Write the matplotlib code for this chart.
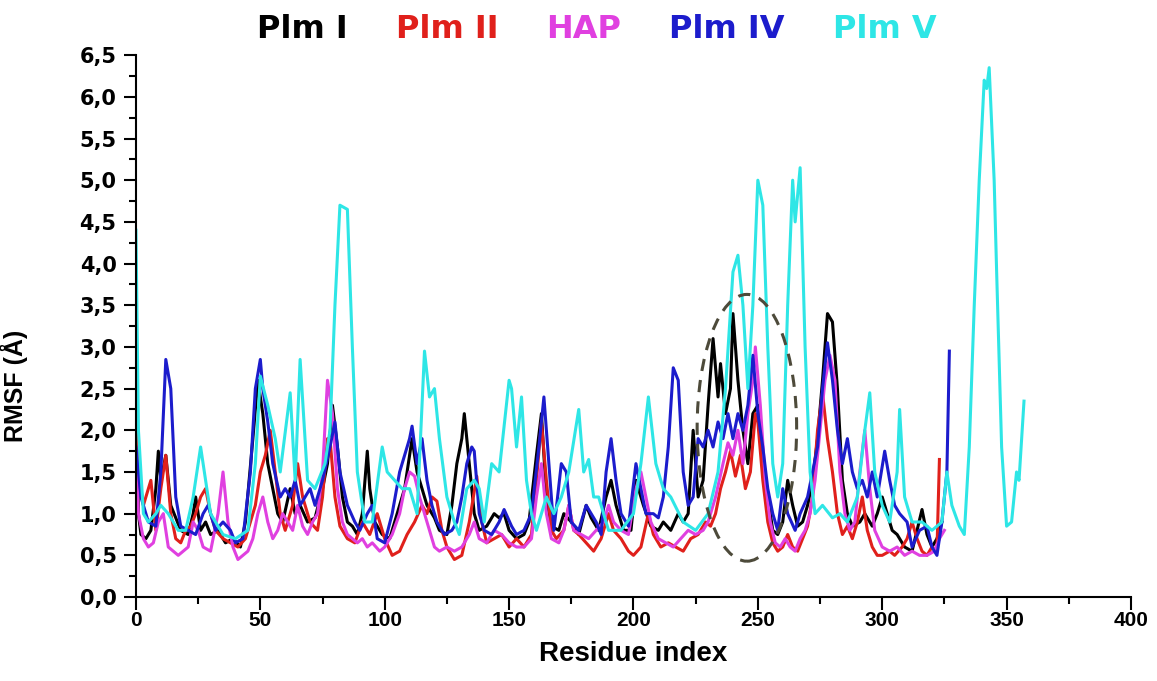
import matplotlib
matplotlib.use('Agg')
import matplotlib.pyplot as plt
from matplotlib.patches import Ellipse
from matplotlib.ticker import MultipleLocator, FuncFormatter

# (residue, RMSF) key points
plm1 = [(0, 2.65), (1, 1.0), (2, 0.75), (4, 0.7), (6, 0.8), (8, 1.3), (9, 1.75), (10, 1.4), (12, 1.7),
        (14, 1.1), (16, 0.95), (18, 0.8), (21, 0.75), (23, 1.0), (24, 1.2), (26, 0.8), (28, 0.9),
        (30, 0.75), (33, 0.8), (36, 0.65), (39, 0.7), (42, 0.6), (44, 0.9), (47, 1.9), (49, 2.6),
        (51, 2.2), (53, 1.6), (55, 1.3), (57, 1.0), (59, 0.9), (62, 1.3), (64, 1.0), (66, 1.1),
        (69, 0.9), (72, 0.95), (75, 1.3), (77, 1.6), (79, 2.3), (81, 1.8), (83, 1.2), (85, 0.9),
        (87, 0.85), (89, 0.75), (91, 1.0), (93, 1.75), (94, 1.3), (96, 0.9), (99, 0.75), (102, 0.7),
        (105, 1.0), (108, 1.3), (111, 1.9), (113, 1.5), (115, 1.3), (117, 1.1), (120, 0.95),
        (122, 0.8), (125, 0.75), (127, 1.1), (129, 1.6), (131, 1.9), (132, 2.2), (134, 1.6),
        (136, 1.0), (138, 0.8), (141, 0.85), (144, 1.0), (146, 0.95), (148, 1.0), (150, 0.8),
        (153, 0.7), (156, 0.75), (158, 0.9), (161, 1.7), (163, 2.2), (165, 1.2), (167, 0.85),
        (170, 0.8), (172, 1.0), (175, 0.9), (178, 0.75), (181, 1.1), (183, 0.95), (186, 0.8),
        (189, 1.2), (191, 1.4), (193, 1.1), (196, 0.8), (199, 0.8), (201, 1.4), (204, 1.1),
        (207, 0.85), (210, 0.8), (212, 0.9), (215, 0.8), (218, 1.0), (220, 0.9), (222, 1.0),
        (224, 2.0), (226, 1.2), (228, 1.4), (230, 2.3), (232, 3.1), (234, 2.4), (235, 2.8),
        (237, 2.2), (239, 2.5), (240, 3.4), (242, 2.6), (244, 2.0), (246, 1.6), (248, 2.2),
        (250, 2.3), (252, 1.7), (254, 1.2), (256, 0.8), (258, 0.75), (260, 0.9), (262, 1.4),
        (264, 1.1), (266, 0.85), (268, 0.9), (270, 1.1), (272, 1.4), (274, 1.9), (276, 2.6),
        (278, 3.4), (280, 3.3), (282, 2.5), (284, 1.4), (286, 1.0), (288, 0.85), (291, 0.9),
        (293, 1.0), (296, 0.85), (298, 1.0), (300, 1.2), (302, 1.0), (304, 0.8), (306, 0.75),
        (309, 0.6), (312, 0.55), (314, 0.8), (316, 1.05), (318, 0.75), (320, 0.6), (322, 0.7),
        (324, 0.9)]

plm2 = [(0, 2.8), (1, 1.5), (3, 1.1), (5, 1.3), (6, 1.4), (8, 0.8), (10, 1.3), (12, 1.7), (14, 1.0),
        (16, 0.7), (18, 0.65), (20, 0.8), (22, 0.85), (24, 1.0), (26, 1.2), (28, 1.3), (30, 1.0),
        (32, 0.8), (35, 0.7), (38, 0.65), (41, 0.6), (44, 0.7), (46, 0.9), (48, 1.1), (50, 1.5),
        (52, 1.7), (54, 2.0), (56, 1.5), (58, 1.0), (60, 0.8), (63, 1.1), (65, 1.6), (67, 1.2),
        (70, 0.9), (73, 0.8), (75, 1.2), (77, 1.9), (78, 1.9), (80, 1.2), (82, 0.85), (85, 0.7),
        (88, 0.65), (91, 0.9), (94, 0.75), (97, 1.0), (100, 0.7), (103, 0.5), (106, 0.55),
        (109, 0.75), (112, 0.9), (115, 1.1), (117, 1.0), (119, 1.2), (121, 1.15), (123, 0.8),
        (125, 0.6), (128, 0.45), (131, 0.5), (134, 0.9), (137, 1.45), (139, 0.9), (141, 0.65),
        (144, 0.7), (147, 0.75), (150, 0.6), (153, 0.7), (156, 0.6), (159, 0.75), (161, 1.4),
        (163, 2.1), (165, 1.4), (167, 0.8), (169, 0.7), (172, 0.8), (174, 1.1), (176, 0.8),
        (178, 0.75), (181, 0.65), (184, 0.55), (187, 0.7), (190, 1.0), (192, 0.8), (195, 0.7),
        (198, 0.55), (200, 0.5), (203, 0.6), (206, 1.0), (208, 0.75), (211, 0.6), (214, 0.65),
        (217, 0.6), (220, 0.55), (223, 0.7), (226, 0.75), (229, 0.9), (231, 0.85), (233, 1.0),
        (235, 1.3), (237, 1.5), (239, 1.75), (241, 1.45), (243, 1.7), (245, 1.3), (247, 1.5),
        (249, 2.2), (250, 2.1), (252, 1.4), (254, 0.9), (256, 0.65), (258, 0.55), (260, 0.6),
        (262, 0.75), (264, 0.6), (266, 0.55), (268, 0.7), (270, 0.85), (272, 1.2), (274, 2.0),
        (276, 2.45), (278, 1.9), (280, 1.5), (282, 1.0), (284, 0.75), (286, 0.85), (288, 0.7),
        (290, 0.9), (292, 1.2), (294, 0.8), (296, 0.6), (298, 0.5), (300, 0.5), (303, 0.55),
        (305, 0.5), (308, 0.6), (310, 0.7), (312, 0.9), (314, 0.7), (316, 0.55), (318, 0.5),
        (320, 0.6), (322, 0.55), (323, 1.65)]

hap = [(0, 1.7), (1, 1.0), (3, 0.7), (5, 0.6), (7, 0.65), (9, 0.9), (11, 1.0), (13, 0.6), (15, 0.55),
       (17, 0.5), (19, 0.55), (21, 0.6), (23, 0.9), (25, 0.8), (27, 0.6), (30, 0.55), (33, 1.0),
       (35, 1.5), (37, 0.9), (39, 0.6), (41, 0.45), (43, 0.5), (45, 0.55), (47, 0.7), (49, 1.0),
       (51, 1.2), (53, 0.9), (55, 0.7), (57, 0.8), (59, 1.0), (61, 0.9), (63, 0.8), (65, 1.1),
       (67, 0.85), (69, 0.75), (71, 0.9), (73, 1.0), (75, 1.5), (77, 2.6), (79, 2.2), (81, 1.3),
       (83, 0.9), (85, 0.75), (87, 0.7), (89, 0.65), (91, 0.7), (93, 0.6), (95, 0.65), (98, 0.55),
       (100, 0.6), (103, 0.75), (106, 1.0), (108, 1.3), (110, 1.5), (112, 1.45), (114, 1.2),
       (116, 1.0), (118, 0.8), (120, 0.6), (122, 0.55), (125, 0.6), (128, 0.55), (131, 0.6),
       (134, 0.75), (136, 0.9), (138, 0.7), (141, 0.65), (144, 0.8), (147, 0.75), (150, 0.65),
       (153, 0.6), (156, 0.6), (159, 0.7), (161, 1.2), (163, 1.6), (165, 1.0), (167, 0.7),
       (170, 0.65), (172, 0.8), (174, 1.1), (176, 0.8), (179, 0.75), (182, 0.7), (185, 0.8),
       (188, 0.9), (190, 1.1), (192, 0.9), (195, 0.8), (198, 0.75), (201, 1.3), (203, 1.5),
       (205, 1.2), (207, 0.9), (210, 0.7), (213, 0.65), (216, 0.6), (219, 0.7), (222, 0.8),
       (225, 0.75), (228, 0.8), (230, 0.9), (233, 1.2), (236, 1.6), (238, 1.85), (240, 1.7),
       (242, 2.0), (244, 1.6), (246, 2.2), (248, 2.6), (249, 3.0), (251, 2.3), (253, 1.4),
       (255, 0.9), (257, 0.65), (259, 0.6), (261, 0.7), (263, 0.6), (265, 0.55), (267, 0.7),
       (269, 0.8), (271, 1.0), (273, 1.4), (275, 2.0), (277, 2.6), (279, 2.9), (281, 2.6),
       (283, 1.5), (285, 1.0), (287, 0.8), (289, 0.9), (291, 1.5), (293, 2.0), (295, 1.3),
       (297, 0.8), (300, 0.6), (303, 0.55), (306, 0.6), (309, 0.5), (312, 0.55), (315, 0.5),
       (318, 0.5), (321, 0.55), (323, 0.7), (325, 0.8)]

plm4 = [(0, 1.8), (2, 1.2), (5, 0.9), (8, 0.85), (10, 1.5), (12, 2.85), (14, 2.5), (16, 1.2),
        (18, 0.85), (21, 0.8), (24, 0.75), (27, 1.0), (29, 1.1), (32, 0.8), (35, 0.9), (38, 0.8),
        (40, 0.65), (43, 0.7), (46, 1.5), (48, 2.5), (50, 2.85), (51, 2.5), (53, 2.1), (55, 1.6),
        (58, 1.2), (60, 1.3), (62, 1.2), (64, 1.4), (66, 1.1), (68, 1.2), (70, 1.3), (72, 1.1),
        (75, 1.4), (78, 1.8), (80, 2.1), (82, 1.5), (85, 1.1), (88, 0.9), (90, 0.8), (93, 1.0),
        (95, 1.1), (97, 0.7), (100, 0.65), (103, 1.0), (106, 1.5), (108, 1.7), (110, 1.9),
        (111, 2.05), (113, 1.6), (115, 1.9), (117, 1.4), (119, 1.1), (121, 0.9), (124, 0.75),
        (127, 0.8), (129, 0.9), (131, 1.2), (133, 1.6), (135, 1.8), (136, 1.75), (138, 1.0),
        (140, 0.8), (143, 0.75), (146, 0.9), (148, 1.05), (151, 0.85), (153, 0.75), (156, 0.8),
        (159, 1.0), (162, 1.8), (164, 2.4), (166, 1.6), (168, 0.8), (171, 1.6), (173, 1.5),
        (175, 0.9), (178, 0.8), (181, 1.1), (183, 1.0), (185, 0.9), (187, 0.75), (189, 1.5),
        (191, 1.9), (193, 1.4), (195, 1.0), (198, 0.85), (201, 1.6), (203, 1.3), (205, 1.0),
        (208, 1.0), (210, 0.95), (212, 1.2), (214, 1.8), (216, 2.75), (218, 2.6), (220, 1.5),
        (222, 1.1), (224, 1.2), (226, 1.9), (228, 1.8), (230, 2.0), (232, 1.8), (234, 2.1),
        (236, 1.9), (238, 2.2), (240, 1.9), (242, 2.2), (244, 2.0), (246, 2.3), (248, 2.9),
        (250, 2.2), (252, 1.8), (254, 1.3), (256, 1.0), (258, 0.8), (260, 1.3), (262, 1.0),
        (265, 0.8), (267, 1.0), (270, 1.2), (272, 1.5), (274, 1.8), (276, 2.5), (278, 3.05),
        (280, 2.6), (282, 2.0), (284, 1.6), (286, 1.9), (288, 1.5), (290, 1.3), (292, 1.4),
        (294, 1.2), (296, 1.5), (298, 1.2), (301, 1.75), (303, 1.4), (305, 1.1), (307, 1.0),
        (310, 0.9), (312, 0.6), (315, 0.8), (318, 0.85), (320, 0.6), (322, 0.5), (324, 0.9),
        (326, 1.5), (327, 2.95)]

plm5 = [(0, 4.4), (1, 2.0), (3, 1.0), (5, 0.9), (8, 1.0), (10, 1.1), (13, 1.0), (17, 0.8),
        (20, 0.8), (23, 1.2), (26, 1.8), (28, 1.4), (30, 1.0), (35, 0.75), (40, 0.7), (45, 0.8),
        (48, 1.6), (50, 2.65), (53, 2.3), (56, 1.9), (58, 1.5), (62, 2.45), (64, 1.4), (66, 2.85),
        (69, 1.4), (72, 1.3), (76, 1.6), (78, 2.0), (80, 3.5), (82, 4.7), (85, 4.65), (87, 3.0),
        (89, 1.5), (92, 0.9), (95, 0.9), (99, 1.8), (101, 1.5), (104, 1.4), (107, 1.3),
        (110, 1.3), (113, 1.0), (116, 2.95), (118, 2.4), (120, 2.5), (122, 1.9), (125, 1.2),
        (128, 0.9), (130, 0.75), (133, 1.3), (136, 1.4), (138, 1.3), (140, 0.9), (143, 1.6),
        (146, 1.5), (150, 2.6), (151, 2.5), (153, 1.8), (155, 2.4), (157, 1.4), (159, 1.0),
        (161, 0.8), (165, 1.2), (168, 1.0), (171, 1.2), (174, 1.5), (178, 2.25), (180, 1.5),
        (182, 1.65), (184, 1.2), (186, 1.2), (190, 0.8), (195, 0.8), (200, 1.0), (203, 1.6),
        (206, 2.4), (209, 1.6), (212, 1.3), (215, 1.2), (220, 0.9), (225, 0.8), (230, 1.0),
        (234, 1.5), (237, 2.5), (240, 3.9), (242, 4.1), (244, 3.5), (246, 2.5), (248, 3.5),
        (250, 5.0), (252, 4.7), (254, 3.0), (256, 1.6), (258, 1.2), (260, 1.6), (262, 3.5),
        (264, 5.0), (265, 4.5), (267, 5.15), (269, 3.0), (271, 1.5), (273, 1.0), (276, 1.1),
        (280, 0.95), (283, 1.0), (286, 0.9), (290, 1.2), (293, 2.0), (295, 2.45), (297, 1.5),
        (300, 1.1), (303, 0.9), (306, 1.5), (307, 2.25), (309, 1.2), (312, 0.9), (316, 0.9),
        (320, 0.8), (324, 0.9), (326, 1.5), (328, 1.1), (331, 0.85), (333, 0.75), (335, 1.8),
        (337, 3.5), (339, 5.0), (341, 6.2), (342, 6.1), (343, 6.35), (345, 5.0), (346, 3.9),
        (348, 1.8), (350, 0.85), (352, 0.9), (354, 1.5), (355, 1.4), (357, 2.35)]

names = ['Plm I', 'Plm II', 'HAP', 'Plm IV', 'Plm V']
series = [plm1, plm2, hap, plm4, plm5]
colors = ['#000000', '#e0201b', '#e040e0', '#1c1ccc', '#2ee6e6']

# highlighted region (residue centre, rmsf centre, width, height)
loop_center = (245.6, 2.03)
loop_width = 40.0
loop_height = 3.2

fig = plt.figure(figsize=(11.57, 6.81), dpi=100)
ax = fig.add_axes([0.1175, 0.1233, 0.86, 0.7957])

for name, data, c in zip(names, series, colors):
    xs = [p[0] for p in data]
    ys = [p[1] for p in data]
    ax.plot(xs, ys, color=c, lw=2.2, label=name)

ell = Ellipse(loop_center, loop_width, loop_height, fill=False, ls=(0, (4, 3)),
              lw=2.2, ec='#4d4a3a', zorder=10)
ax.add_patch(ell)

ax.set_xlim(0, 400)
ax.set_ylim(0, 6.5)
ax.xaxis.set_major_locator(MultipleLocator(50))
ax.xaxis.set_minor_locator(MultipleLocator(25))
ax.yaxis.set_major_locator(MultipleLocator(0.5))
ax.yaxis.set_minor_locator(MultipleLocator(0.25))
ax.yaxis.set_major_formatter(FuncFormatter(lambda v, p: f'{v:.1f}'.replace('.', ',')))

for s in ['top', 'right']:
    ax.spines[s].set_visible(False)
for s in ['left', 'bottom']:
    ax.spines[s].set_linewidth(1.5)

ax.tick_params(which='major', direction='out', length=9, width=1.5, pad=5)
ax.tick_params(which='minor', direction='out', length=5, width=1.5)
ax.tick_params(axis='x', which='major', pad=1)

for lab in ax.get_xticklabels():
    lab.set_fontfamily(['Liberation Sans', 'DejaVu Sans'])
    lab.set_fontweight('bold')
    lab.set_fontsize(15)
for lab in ax.get_yticklabels():
    lab.set_fontfamily(['DejaVu Sans'])
    lab.set_fontweight('bold')
    lab.set_fontsize(15)

ax.set_xlabel('Residue index', family=['Liberation Sans'], fontweight='bold', fontsize=20, labelpad=8)
ax.set_ylabel('RMSF (Å)', family=['Liberation Sans'], fontweight='bold', fontsize=18)
ax.yaxis.set_label_coords(-0.1085, 0.39)

leg = ax.legend(loc='center', bbox_to_anchor=(0.463, 1.048), ncol=5, frameon=False,
                handlelength=0, handletextpad=0, columnspacing=1.5, labelcolor='linecolor',
                prop={'family': 'DejaVu Sans', 'weight': 'bold', 'size': 23})
for h in leg.legend_handles:
    h.set_visible(False)

fig.savefig('out.png', dpi=100)
